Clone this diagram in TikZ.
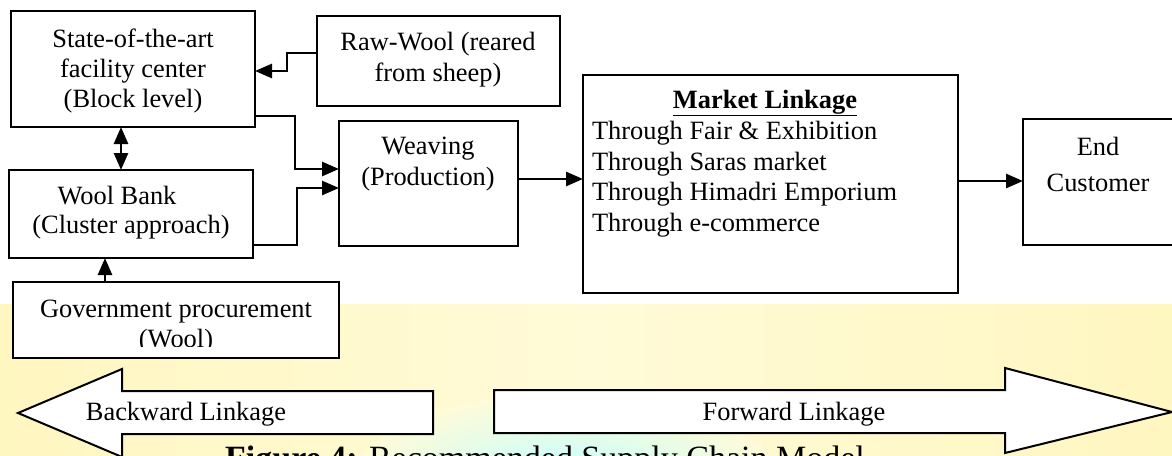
\documentclass[tikz,border=0pt]{standalone}
\usepackage{fontspec}
\setmainfont{Liberation Serif}
\usetikzlibrary{arrows.meta,fit}
\definecolor{bgyel}{RGB}{255,251,216}
\definecolor{bgyeledge}{RGB}{255,246,192}
\definecolor{bgcyan}{RGB}{196,255,255}
\begin{document}
\begin{tikzpicture}[x=1pt,y=-1pt,
  box/.style={draw, line width=2.2pt, fill=white, inner sep=0pt, outer sep=0pt},
  txt/.style={anchor=base, inner sep=0pt, outer sep=0pt, font=\fontsize{26.4}{30}\selectfont},
  ltxt/.style={txt, anchor=base west},
  conn/.style={line width=2.6pt, -{Triangle[length=17pt,width=14pt]}},
  dconn/.style={line width=2.6pt, {Triangle[length=17pt,width=14pt]}-{Triangle[length=17pt,width=14pt]}},
  blockarrow/.style={draw, line width=2pt, fill=white, line join=miter}]
\useasboundingbox (0,0) rectangle (1172,455);
% background
\fill[white] (0,0) rectangle (1172,455);
\shade[left color=bgyeledge, right color=bgyeledge, middle color=bgyel] (0,304) rectangle (1172,455);
\shade[inner color=bgcyan, outer color=bgyel] (565,478) ellipse (210 and 85);

% boxes
\node[box, fit={(11,11)(255,127)}] (state) {};
\node[box, fit={(317,16)(560,106)}] (raw) {};
\node[box, fit={(339,121)(518,246)}] (weave) {};
\node[box, fit={(9,170)(253,258)}] (bank) {};
\node[box, fit={(13,282)(339,358)}] (gov) {};
\node[box, fit={(583,75)(958,293)}] (market) {};
\node[box, fit={(1023,119)(1182,245)}] (endc) {};

% texts
\node[txt] (t1) at (133,47) {State-of-the-art};
\node[txt] (t2) at (133,77) {facility center};
\node[txt] (t3) at (133,107) {(Block level)};
\node[txt] (r1) at (438,50) {Raw-Wool (reared};
\node[txt] (r2) at (438,81) {from sheep)};
\node[txt] (w1) at (428,154) {Weaving};
\node[txt] (w2) at (428,185) {(Production)};
\node[txt] (b1) at (117,204) {Wool Bank};
\node[txt] (b2) at (131,233) {(Cluster approach)};
\node[txt] (g1) at (176,317) {Government procurement};
\begin{scope}
  \clip (13,282) rectangle (339,346.5);
  \node[txt] (g2) at (176,347.5) {(Wool)};
\end{scope}
\node[txt] (m0) at (765,108) {\textbf{\underline{Market Linkage}}};
\node[ltxt] (m1) at (592,139) {Through Fair \& Exhibition};
\node[ltxt] (m2) at (592,170) {Through Saras market};
\node[ltxt] (m3) at (592,200) {Through Himadri Emporium};
\node[ltxt] (m4) at (592,231) {Through e-commerce};
\node[txt] (e1) at (1098,155) {End};
\node[txt] (e2) at (1098,191) {Customer};

% connectors
\draw[conn] (raw.west |- 0,53) -| (287,71) -- (state.east |- 0,71);
\draw[conn] (state.east |- 0,116) -| (295,169) -- (weave.west |- 0,169);
\draw[conn] (bank.east |- 0,245) -| (297,188) -- (weave.west |- 0,188);
\draw[dconn] (state.south -| 121,0) -- (bank.north -| 121,0);
\draw[conn] (gov.north -| 105,0) -- (bank.south -| 105,0);
\draw[conn] (weave.east |- 0,179) -- (market.west |- 0,179);
\draw[conn] (market.east |- 0,181) -- (endc.west |- 0,181);

% linkage block arrows
\draw[blockarrow] (18,413) -- (122,369) -- (122,391) -- (433,391) -- (433,434) -- (122,434) -- (122,457) -- cycle;
\draw[blockarrow] (494,390) -- (1005,390) -- (1005,368) -- (1172,412) -- (1005,453) -- (1005,433) -- (494,433) -- cycle;
\node[txt] (bl) at (186,420) {Backward Linkage};
\node[txt] (fl) at (794,420) {Forward Linkage};

% caption (cut at the bottom edge, as in the reference)
\node[anchor=base west, inner sep=0pt, font=\fontsize{34}{38}\selectfont] (cap) at (225,469) {\textbf{Figure 4:} Recommended Supply Chain Model};
\end{tikzpicture}
\end{document}
